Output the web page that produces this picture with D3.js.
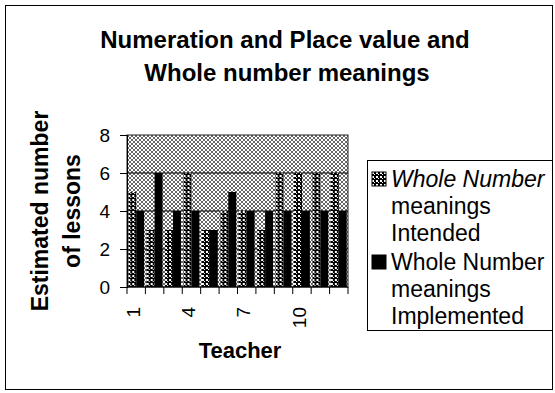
<!doctype html>
<html lang="en">
<head>
    <meta charset="utf-8">
    <script src="https://d3js.org/d3.v7.min.js"></script>
    <style>
        body { margin:0; background:#fff; }
        svg text { font-family: "Liberation Sans", Arial, sans-serif; fill:#000; }
    </style>
    <title>Whole number meanings</title>
</head>
<body>
<script>

    // data
    var teachers = ["1","2","3","4","5","6","7","8","9","10","11","12"];
    var intended = [5, 3, 3, 6, 3, 4, 4, 3, 6, 6, 6, 6];
    var implemented = [4, 6, 4, 4, 3, 5, 4, 4, 4, 4, 4, 4];
    var seriesNames = ["Whole Number meanings Intended", "Whole Number meanings Implemented"];
    var yTicks = [0, 2, 4, 6, 8];
    var xTickLabels = ["1", "4", "7", "10"];

    var rows = teachers.map(function(t, i) {
        return {teacher: t, values: [intended[i], implemented[i]]};
    });

    // plot area
    var margin = {top: 135, left: 127},
        width = 348 - margin.left,
        height = 287 - margin.top;

    var svg = d3.select("body").append("svg")
        .attr("width", 555)
        .attr("height", 393);

    // dithered fills like the scanned picture
    var defs = svg.append("defs");
    var bg = defs.append("pattern").attr("id", "bgfill")
        .attr("width", 4).attr("height", 4).attr("patternUnits", "userSpaceOnUse");
    bg.append("rect").attr("width", 4).attr("height", 4).attr("fill", "#fff");
    bg.append("rect").attr("width", 2).attr("height", 2).attr("fill", "#666");
    bg.append("rect").attr("x", 2).attr("y", 2).attr("width", 2).attr("height", 2).attr("fill", "#666");

    var pat = defs.append("pattern").attr("id", "intfill")
        .attr("width", 4).attr("height", 4).attr("patternUnits", "userSpaceOnUse");
    pat.append("rect").attr("width", 4).attr("height", 4).attr("fill", "#000");
    pat.append("rect").attr("width", 2).attr("height", 2).attr("fill", "#fff");
    pat.append("rect").attr("x", 2).attr("y", 2).attr("width", 1).attr("height", 1).attr("fill", "#fff");

    var fills = ["url(#intfill)", "#000"];

    // outer chart border
    svg.append("rect")
        .attr("x", 5.5).attr("y", 5.5)
        .attr("width", 547).attr("height", 384)
        .attr("fill", "none").attr("stroke", "#000");

    // title
    svg.append("text").attr("x", 285).attr("y", 48)
        .attr("text-anchor", "middle").attr("font-size", 24).attr("font-weight", "bold")
        .text("Numeration and Place value and");
    svg.append("text").attr("x", 287).attr("y", 81)
        .attr("text-anchor", "middle").attr("font-size", 24).attr("font-weight", "bold")
        .text("Whole number meanings");

    var g = svg.append("g")
        .attr("transform", "translate(" + margin.left + "," + margin.top + ")");

    // scales
    var x = d3.scaleBand().domain(teachers).range([0, width])
        .paddingInner(0.14).paddingOuter(0.07);
    var x1 = d3.scaleBand().domain([0, 1]).range([0, x.bandwidth()]);
    var y = d3.scaleLinear().domain([0, 8]).range([height, 0]);

    // plot background
    g.append("rect")
        .attr("width", width).attr("height", height)
        .attr("fill", "url(#bgfill)").attr("stroke", "#222");

    // gridlines
    g.selectAll(".grid")
        .data(yTicks.slice(1, -1))
        .enter().append("line")
        .attr("x1", 0).attr("x2", width)
        .attr("y1", function(d) { return y(d); })
        .attr("y2", function(d) { return y(d); })
        .attr("stroke", "#000");

    // bars
    var groups = g.selectAll(".grp")
        .data(rows)
        .enter().append("g")
        .attr("transform", function(d) { return "translate(" + x(d.teacher) + ",0)"; });
    groups.selectAll("rect")
        .data(function(d) { return d.values; })
        .enter().append("rect")
        .attr("x", function(d, i) { return x1(i); })
        .attr("width", x1.bandwidth())
        .attr("y", function(d) { return y(d); })
        .attr("height", function(d) { return height - y(d); })
        .attr("fill", function(d, i) { return fills[i]; });

    // y axis
    var yAxis = g.append("g")
        .call(d3.axisLeft(y).tickValues(yTicks).tickSize(7).tickPadding(10));
    yAxis.select(".domain").attr("stroke", "#000");
    yAxis.selectAll("text").attr("font-size", 19);

    // x axis, ticks between categories
    var xAxis = g.append("g").attr("transform", "translate(0," + height + ")");
    xAxis.append("line").attr("x1", 0).attr("x2", width).attr("stroke", "#000");
    var step = x.step();
    xAxis.selectAll(".tk")
        .data(teachers.concat(["end"]))
        .enter().append("line")
        .attr("x1", function(d, i) { return i * step; })
        .attr("x2", function(d, i) { return i * step; })
        .attr("y1", 0).attr("y2", 7)
        .attr("stroke", "#000");
    xAxis.selectAll(".lbl")
        .data(xTickLabels)
        .enter().append("text")
        .attr("transform", function(d) {
            return "translate(" + (x(d) + x.bandwidth() / 2 - 3) + ",20) rotate(-90)";
        })
        .attr("text-anchor", "end").attr("dy", "0.35em")
        .attr("font-size", 19)
        .text(function(d) { return d; });

    // axis titles
    svg.append("text").attr("x", 240).attr("y", 358)
        .attr("text-anchor", "middle").attr("font-size", 22).attr("font-weight", "bold")
        .text("Teacher");
    svg.append("text").attr("transform", "translate(48,211) rotate(-90)")
        .attr("text-anchor", "middle").attr("font-size", 23).attr("font-weight", "bold")
        .text("Estimated number");
    svg.append("text").attr("transform", "translate(80,211) rotate(-90)")
        .attr("text-anchor", "middle").attr("font-size", 23).attr("font-weight", "bold")
        .text("of lessons");

    // legend
    var legend = svg.append("g");
    legend.append("rect")
        .attr("x", 367.5).attr("y", 160.5).attr("width", 185).attr("height", 170)
        .attr("fill", "#fff").attr("stroke", "#000");
    var legendLines = [
        ["Whole Number", "meanings", "Intended"],
        ["Whole Number", "meanings", "Implemented"]
    ];
    legendLines.forEach(function(lines, i) {
        var top = 172 + i * 83;
        legend.append("rect")
            .attr("x", 372).attr("y", top).attr("width", 14).attr("height", 14)
            .attr("fill", fills[i]).attr("stroke", "#000");
        lines.forEach(function(s, j) {
            legend.append("text")
                .attr("x", 391).attr("y", top + 15 + j * 27)
                .attr("font-size", 23)
                .attr("font-style", i == 0 && j == 0 ? "italic" : "normal")
                .text(s);
        });
    });

</script>
</body>
</html>
